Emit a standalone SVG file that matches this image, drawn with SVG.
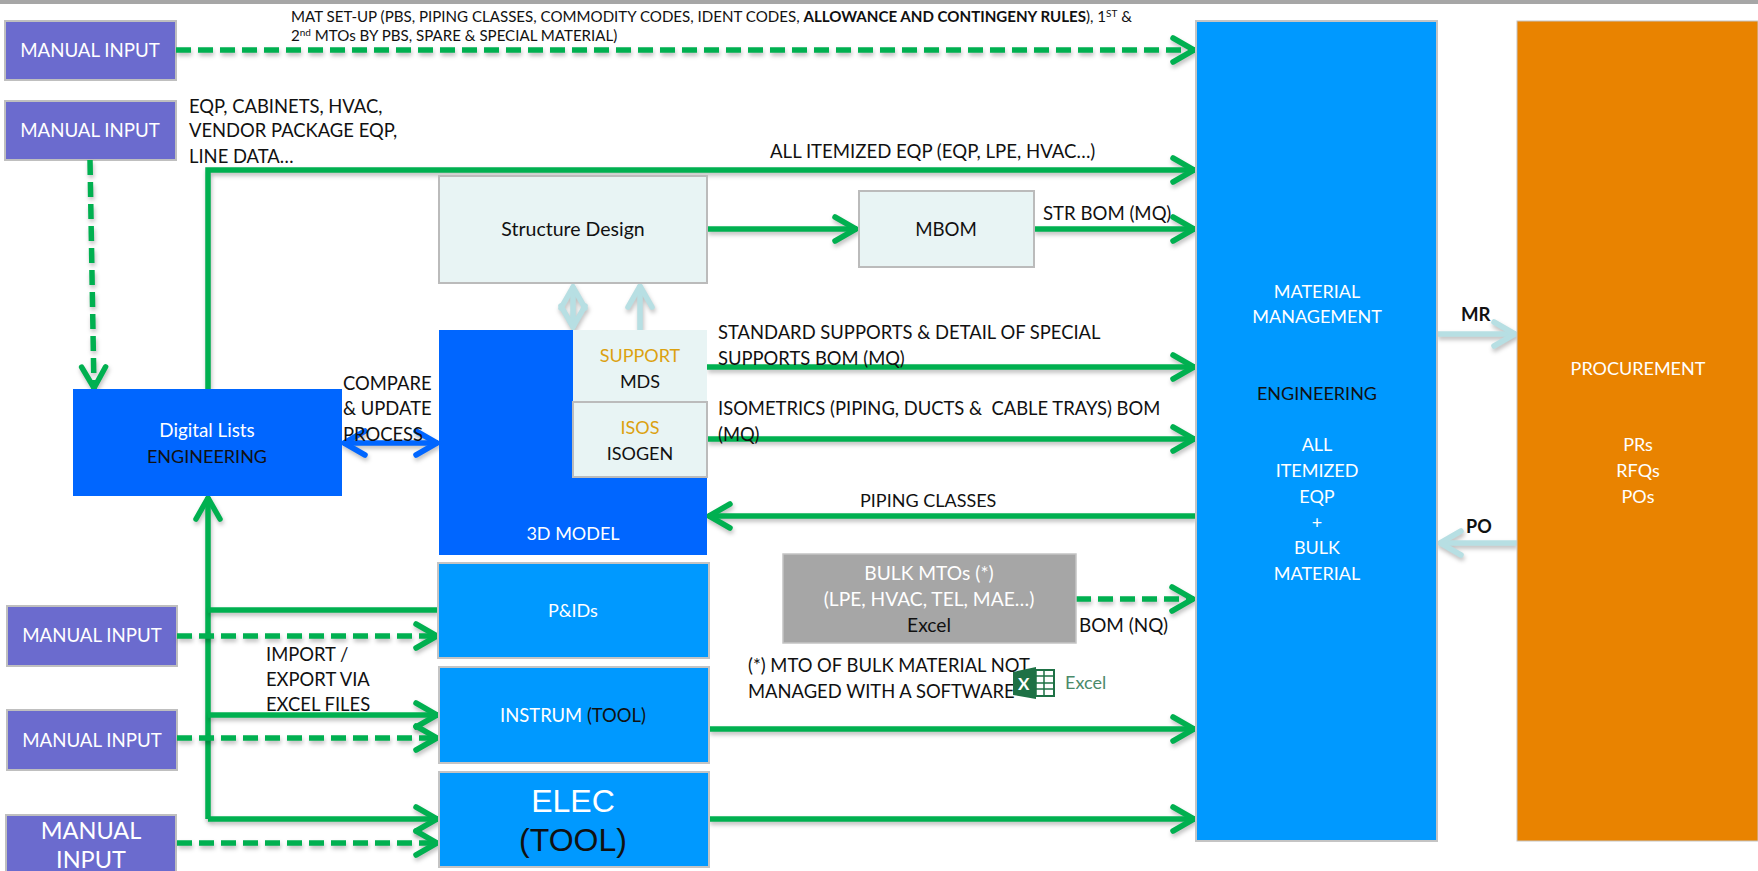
<svg xmlns="http://www.w3.org/2000/svg" width="1758" height="871" viewBox="0 0 1758 871">
<style>
text{font-family:Lato,"Liberation Sans",sans-serif;font-size:18px;fill:#111;white-space:pre}
.c{text-anchor:middle}
.w{fill:#fff}
.y{fill:#dca10f}
.mi{fill:#6b6bce;stroke:#bfbfbf;stroke-width:2}
.n{font-size:18.7px}
.lt{fill:#e8f4f4;stroke:#bbb;stroke-width:2}
.bl{fill:#0099ff;stroke:#c4c4c4;stroke-width:2}
.g{fill:none;stroke:#00b050;stroke-width:5.5;filter:url(#sh)}
.d{stroke-dasharray:15 7}
.lb{fill:none;stroke:#b7dfe3;stroke-width:5.5;filter:url(#sh)}
.db{fill:none;stroke:#0066ff;stroke-width:5.5;filter:url(#sh)}
.s{font-size:15.1px}
.m{font-size:18.4px}
.l{font-size:19.2px}
.big{font-size:23.5px}
.ar{font-family:"Liberation Sans",sans-serif;font-size:32px}
</style>
<defs>
<filter id="sh" x="-10%" y="-10%" width="120%" height="120%" filterUnits="userSpaceOnUse" primitiveUnits="userSpaceOnUse" color-interpolation-filters="sRGB">
<feDropShadow dx="1" dy="3" stdDeviation="2" flood-color="#000" flood-opacity="0.25"/>
</filter>
<marker id="ag" markerUnits="userSpaceOnUse" markerWidth="34" markerHeight="34" refX="25" refY="14" orient="auto-start-reverse" overflow="visible"><path d="M3 2 L24 14 L3 26" fill="none" stroke="#00b050" stroke-width="5.5" stroke-linecap="round"/></marker>
<marker id="al" markerUnits="userSpaceOnUse" markerWidth="34" markerHeight="34" refX="25" refY="14" orient="auto-start-reverse" overflow="visible"><path d="M3 2 L24 14 L3 26" fill="none" stroke="#b7dfe3" stroke-width="5.5" stroke-linecap="round"/></marker>
<marker id="ab" markerUnits="userSpaceOnUse" markerWidth="34" markerHeight="34" refX="25" refY="14" orient="auto-start-reverse" overflow="visible"><path d="M3 2 L24 14 L3 26" fill="none" stroke="#0066ff" stroke-width="5.5" stroke-linecap="round"/></marker>
</defs>
<rect width="1758" height="871" fill="#fff"/>
<rect id="topbar" width="1758" height="4" fill="#a6a6a6"/>

<g id="mi1"><rect class="mi" x="5" y="21" width="171" height="59"/><text class="c w n" x="90" y="57">MANUAL INPUT</text></g>
<g id="mi2"><rect class="mi" x="5" y="101" width="171" height="59"/><text class="c w n" x="90" y="137">MANUAL INPUT</text></g>
<g id="mi3"><rect class="mi" x="7" y="606" width="170" height="60"/><text class="c w n" x="92" y="642">MANUAL INPUT</text></g>
<g id="mi4"><rect class="mi" x="7" y="710" width="170" height="60"/><text class="c w n" x="92" y="747">MANUAL INPUT</text></g>
<g id="mi5"><rect class="mi" x="6" y="815" width="170" height="60"/><text class="c w big" x="91" y="839">MANUAL</text><text class="c w big" x="91" y="868">INPUT</text></g>

<g id="connectors">
<path class="g d" d="M176 50H1195" marker-end="url(#ag)"/>
<path class="g d" d="M90 160L94 389" marker-end="url(#ag)"/>
<path class="g" d="M208 389V170H1195" marker-end="url(#ag)"/>
<path class="g" d="M707 229H857" marker-end="url(#ag)"/>
<path class="g" d="M1034 229H1195" marker-end="url(#ag)"/>
<path class="g" d="M707 367H1195" marker-end="url(#ag)"/>
<path class="g" d="M707 439H1195" marker-end="url(#ag)"/>
<path class="g" d="M1196 516H708" marker-end="url(#ag)"/>
<path class="g d" d="M1076 599H1194" marker-end="url(#ag)"/>
<path class="g" d="M709 729H1195" marker-end="url(#ag)"/>
<path class="g" d="M709 819H1195" marker-end="url(#ag)"/>
<path class="g" d="M208 819V497" marker-end="url(#ag)"/>
<path class="g" d="M438 610H208"/>
<path class="g" d="M208 715H438" marker-end="url(#ag)"/>
<path class="g" d="M208 819H438" marker-end="url(#ag)"/>
<path class="g d" d="M177 636H438" marker-end="url(#ag)"/>
<path class="g d" d="M177 738H438" marker-end="url(#ag)"/>
<path class="g d" d="M177 843H438" marker-end="url(#ag)"/>
<path class="db" d="M343 443H438" marker-start="url(#ab)" marker-end="url(#ab)"/>
<path class="lb" d="M573 286V328" marker-start="url(#al)" marker-end="url(#al)"/>
<path class="lb" d="M640 330V285" marker-end="url(#al)"/>
<path class="lb" d="M1437 334H1516" marker-end="url(#al)"/>
<path class="lb" d="M1517 543H1439" marker-end="url(#al)"/>
</g>

<g id="structure"><rect class="lt" x="439" y="176" width="268" height="107"/><text class="c" x="573" y="236" style="font-size:19.5px">Structure Design</text></g>
<g id="mbom"><rect class="lt" x="859" y="191" width="175" height="76"/><text class="c" x="946" y="236" style="font-size:18.7px">MBOM</text></g>
<g id="model3d"><rect x="439" y="330" width="268" height="225" fill="#0066ff"/><text class="c w" x="573" y="540">3D MODEL</text></g>
<g id="support"><rect x="573" y="330" width="134" height="72" fill="#e8f4f4"/><text class="c y" x="640" y="362">SUPPORT</text><text class="c" x="640" y="388">MDS</text></g>
<g id="isos"><rect class="lt" x="573" y="402" width="134" height="75"/><text class="c y" x="640" y="434">ISOS</text><text class="c" x="640" y="460">ISOGEN</text></g>
<g id="digital"><rect x="73" y="389" width="269" height="107" fill="#0066ff"/><text class="c w" x="207" y="437" style="font-size:18.8px">Digital Lists</text><text class="c" x="207" y="463">ENGINEERING</text></g>
<g id="pids"><rect class="bl" x="438" y="563" width="271" height="95"/><text class="c w" x="573" y="617">P&amp;IDs</text></g>
<g id="instrum"><rect class="bl" x="439" y="667" width="270" height="96"/><text class="c w m" x="573" y="722">INSTRUM <tspan style="fill:#111">(TOOL)</tspan></text></g>
<g id="elec"><rect class="bl" x="439" y="772" width="270" height="95"/><text class="c w ar" x="573" y="812">ELEC</text><text class="c ar" x="573" y="851">(TOOL)</text></g>
<g id="bulk"><rect x="783" y="554" width="293" height="89" fill="#a6a6a6" stroke="#c4c4c4" stroke-width="1.5"/><text class="c w l" x="929" y="580">BULK MTOs (*)</text><text class="c w l" x="929" y="606">(LPE, HVAC, TEL, MAE…)</text><text class="c l" x="929" y="632">Excel</text></g>
<g id="material"><rect class="bl" x="1196" y="21" width="241" height="820"/>
<text class="c w" x="1317" y="298">MATERIAL</text><text class="c w" x="1317" y="323">MANAGEMENT</text><text class="c" x="1317" y="400">ENGINEERING</text><text class="c w" x="1317" y="451">ALL</text><text class="c w" x="1317" y="477">ITEMIZED</text><text class="c w" x="1317" y="503">EQP</text><text class="c w" x="1317" y="529">+</text><text class="c w" x="1317" y="554">BULK</text><text class="c w" x="1317" y="580">MATERIAL</text></g>
<g id="procurement"><rect x="1517" y="21" width="241" height="820" fill="#e98300" stroke="#c4c4c4" stroke-width="1"/><text class="c w" x="1638" y="375">PROCUREMENT</text><text class="c w" x="1638" y="451">PRs</text><text class="c w" x="1638" y="477">RFQs</text><text class="c w" x="1638" y="503">POs</text></g>

<g id="labels">
<text class="s" x="291" y="22">MAT SET-UP (PBS, PIPING CLASSES, COMMODITY CODES, IDENT CODES, <tspan font-weight="700">ALLOWANCE AND CONTINGENY RULES</tspan>), 1<tspan dy="-5" style="font-size:10px">ST</tspan><tspan dy="5"> &amp;</tspan></text>
<text class="s" x="291" y="41">2<tspan dy="-5" style="font-size:10px">nd</tspan><tspan dy="5"> MTOs BY PBS, SPARE &amp; SPECIAL MATERIAL)</tspan></text>
<text class="m" x="189" y="113">EQP, CABINETS, HVAC,</text><text class="m" x="189" y="137">VENDOR PACKAGE EQP,</text><text class="m" x="189" y="163">LINE DATA…</text>
<text x="770" y="158" style="font-size:18.6px">ALL ITEMIZED EQP (EQP, LPE, HVAC…)</text>
<text x="1043" y="220" style="font-size:18.6px">STR BOM (MQ)</text>
<text class="m" x="718" y="339">STANDARD SUPPORTS &amp; DETAIL OF SPECIAL</text><text class="m" x="718" y="365">SUPPORTS BOM (MQ)</text>
<text class="m" x="718" y="415">ISOMETRICS (PIPING, DUCTS &amp;  CABLE TRAYS) BOM</text><text class="m" x="718" y="441">(MQ)</text>
<text x="860" y="507">PIPING CLASSES</text>
<text class="m" x="343" y="390">COMPARE</text><text class="m" x="343" y="415">&amp; UPDATE</text><text class="m" x="343" y="441">PROCESS</text>
<text class="m" x="266" y="661">IMPORT /</text><text class="m" x="266" y="686">EXPORT VIA</text><text class="m" x="266" y="711">EXCEL FILES</text>
<text x="1079" y="632" style="font-size:18.9px">BOM (NQ)</text>
<text class="m" x="748" y="672">(*) MTO OF BULK MATERIAL NOT</text><text class="m" x="748" y="698">MANAGED WITH A SOFTWARE</text>
<text x="1461" y="321" font-weight="700" style="font-size:18.6px">MR</text><text x="1466" y="533" font-weight="700">PO</text>
</g>
<g id="excel-icon">
<rect x="1030" y="670" width="24" height="26" fill="#fff" stroke="#1e7145" stroke-width="2"/>
<path d="M1036 670V696M1044 670V696M1030 676H1054M1030 683H1054M1030 689H1054" stroke="#1e7145" stroke-width="1.5" fill="none"/>
<path d="M1013 672L1036 667V699L1013 695Z" fill="#1e7145"/>
<text x="1018" y="690" style="font-size:17px;font-weight:700;fill:#fff">X</text>
<text x="1065" y="689" style="font-size:18px;fill:#4b8a6a">Excel</text>
</g>
</svg>
